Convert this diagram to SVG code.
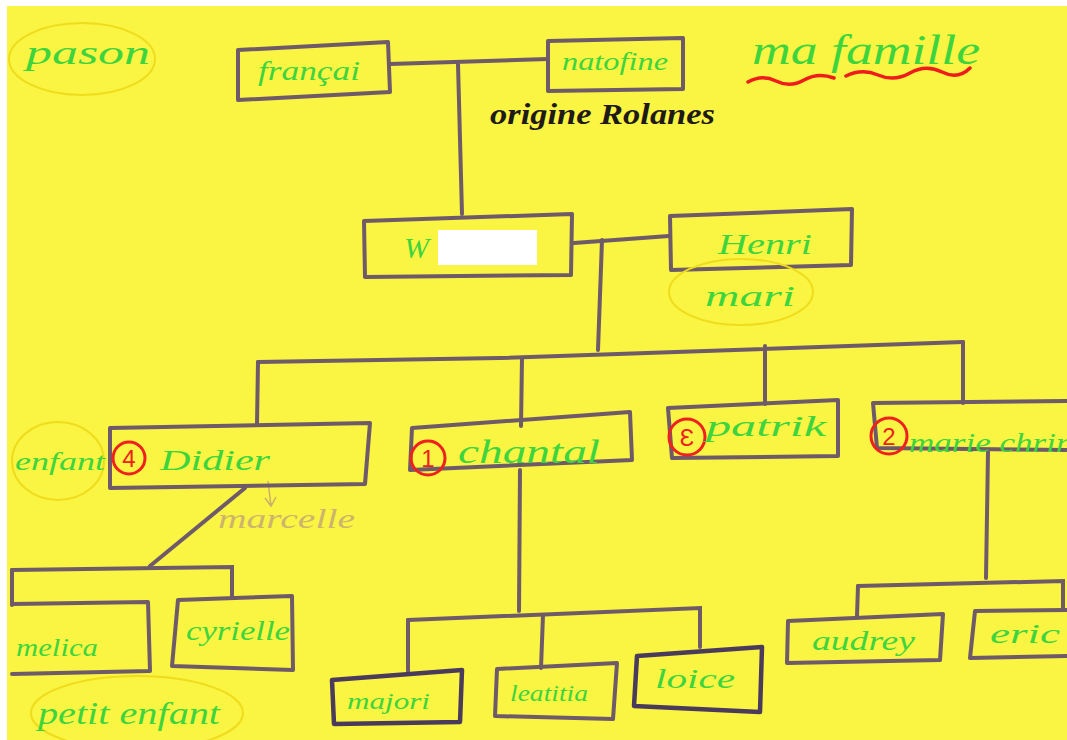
<svg xmlns="http://www.w3.org/2000/svg" width="1067" height="740" viewBox="0 0 1067 740">
<defs>
<style>
.box{fill:none;stroke:#6e5a68;stroke-width:4;stroke-linejoin:round;stroke-linecap:round}
.dark{stroke:#4a3a5c;stroke-width:4.5}
.ln{fill:none;stroke:#6e5a68;stroke-width:4;stroke-linecap:round}
.t{font-family:"Liberation Serif",serif;font-style:italic;fill:#3ed43e}
.ov{fill:none;stroke:#efdc1c;stroke-width:2}
.num{fill:none;stroke:#ee2020;stroke-width:3}
.nt{font-family:"Liberation Sans",sans-serif;fill:#ee2020;font-size:24px;text-anchor:middle}
</style>
</defs>
<rect x="0" y="0" width="1067" height="740" fill="#ffffff"/>
<rect x="7" y="6" width="1060" height="734" fill="#faf442"/>

<g id="connectors">
<path class="ln" d="M390 64 L548 59"/>
<path class="ln" d="M458 64 L462 214"/>
<path class="ln" d="M574 243 L669 236"/>
<path class="ln" d="M602 240 L598 350"/>
<path class="ln" d="M258 362 L500 358 L963 342"/>
<path class="ln" d="M258 362 L257 424"/>
<path class="ln" d="M522 358 L521 426"/>
<path class="ln" d="M765 346 L765 404"/>
<path class="ln" d="M963 342 L963 403"/>
<path class="ln" d="M245 488 L150 566"/>
<path class="ln" d="M12 570 L232 567 L232 598"/>
<path class="ln" d="M12 570 L12 605"/>
<path class="ln" d="M520 470 L519 611"/>
<path class="ln dark" d="M408 620 L700 608 L700 647"/>
<path class="ln dark" d="M408 620 L408 671"/>
<path class="ln" d="M543 615 L541 668"/>
<path class="ln" d="M988 452 L986 578"/>
<path class="ln" d="M858 586 L1063 581 L1063 610"/>
<path class="ln" d="M858 586 L857 616"/>
<path d="M268 481 L271 506 M265 498 L271 506 L276 497" fill="none" stroke="#c9b06a" stroke-width="1.5"/>
</g>

<g id="pason">
<ellipse class="ov" cx="82" cy="59" rx="73" ry="36"/>
<text class="t" x="26" y="64" style="font-size:34px" textLength="124" lengthAdjust="spacingAndGlyphs">pason</text>
</g>

<g id="francai">
<path class="box" d="M238 50 L388 42 L390 92 L238 100 Z"/>
<text class="t" x="258" y="80" style="font-size:28px" textLength="102" lengthAdjust="spacingAndGlyphs">françai</text>
</g>

<g id="natofine">
<path class="box" d="M548 41 L683 38 L683 89 L548 91 Z"/>
<text class="t" x="562" y="70" style="font-size:26px" textLength="106" lengthAdjust="spacingAndGlyphs">natofine</text>
</g>

<g id="origine">
<text x="490" y="124" font-family="Liberation Serif,serif" font-style="italic" font-weight="bold" font-size="30" fill="#1e1a18" textLength="225" lengthAdjust="spacingAndGlyphs">origine Rolanes</text>
</g>

<g id="mafamille">
<text class="t" x="752" y="64" style="font-size:42px" textLength="228" lengthAdjust="spacingAndGlyphs">ma famille</text>
<path d="M748 82 Q762 74 776 81 T804 80 T834 78 M846 76 Q862 68 878 75 T910 73 T942 72 T970 68" fill="none" stroke="#ee1c1c" stroke-width="3.5" stroke-linecap="round"/>
</g>

<g id="w">
<path class="box" d="M364 221 L572 214 L571 275 L365 277 Z"/>
<text class="t" x="404" y="258" style="font-size:30px">W</text>
<rect x="438" y="230" width="99" height="35" fill="#ffffff"/>
</g>

<g id="henri">
<path class="box" d="M670 216 L852 209 L851 265 L671 270 Z"/>
<text class="t" x="718" y="254" style="font-size:30px" textLength="94" lengthAdjust="spacingAndGlyphs">Henri</text>
</g>

<g id="mari">
<ellipse class="ov" cx="741" cy="292" rx="72" ry="33"/>
<text class="t" x="705" y="306" style="font-size:30px" textLength="90" lengthAdjust="spacingAndGlyphs">mari</text>
</g>

<g id="enfant">
<ellipse class="ov" cx="58" cy="461" rx="46" ry="39"/>
<text class="t" x="15" y="470" style="font-size:26px" textLength="90" lengthAdjust="spacingAndGlyphs">enfant</text>
</g>

<g id="didier">
<path class="box" d="M110 428 L370 423 L365 484 L110 488 Z"/>
<circle class="num" cx="129" cy="458" r="16"/>
<text class="nt" x="129" y="467">4</text>
<text class="t" x="160" y="470" style="font-size:30px" textLength="110" lengthAdjust="spacingAndGlyphs">Didier</text>
</g>

<g id="marcelle">
<text x="218" y="528" font-family="Liberation Serif,serif" font-style="italic" font-size="28" fill="#cdb46e" textLength="137" lengthAdjust="spacingAndGlyphs">marcelle</text>
</g>

<g id="chantal">
<path class="box" d="M412 428 L630 412 L632 460 L410 470 Z"/>
<circle class="num" cx="428" cy="458" r="17"/>
<text class="nt" x="428" y="467">1</text>
<text class="t" x="458" y="463" style="font-size:34px" textLength="142" lengthAdjust="spacingAndGlyphs">chantal</text>
</g>

<g id="patrik">
<path class="box" d="M668 408 L838 400 L838 456 L672 458 Z"/>
<circle class="num" cx="687" cy="437" r="18"/>
<text class="nt" x="687" y="446">Ɛ</text>
<text class="t" x="706" y="436" style="font-size:30px" textLength="120" lengthAdjust="spacingAndGlyphs">patrik</text>
</g>

<g id="marie">
<path class="box" d="M1067 401 L873 403 L877 448 L1067 450"/>
<circle class="num" cx="889" cy="436" r="18"/>
<text class="nt" x="889" y="445">2</text>
<text class="t" x="909" y="452" style="font-size:28px" textLength="180" lengthAdjust="spacingAndGlyphs">marie chrine</text>
</g>

<g id="melica">
<path class="box" d="M12 604 L148 602 L150 671 L12 674"/>
<text class="t" x="16" y="656" style="font-size:26px" textLength="82" lengthAdjust="spacingAndGlyphs">melica</text>
</g>

<g id="cyrielle">
<path class="box" d="M178 600 L292 596 L293 670 L172 666 Z"/>
<text class="t" x="186" y="640" style="font-size:28px" textLength="104" lengthAdjust="spacingAndGlyphs">cyrielle</text>
</g>

<g id="petitenfant">
<ellipse class="ov" cx="137" cy="713" rx="106" ry="37"/>
<text class="t" x="38" y="724" style="font-size:32px" textLength="182" lengthAdjust="spacingAndGlyphs">petit enfant</text>
</g>

<g id="majori">
<path class="box dark" d="M332 680 L462 670 L460 722 L334 724 Z"/>
<text class="t" x="347" y="709" style="font-size:24px" textLength="83" lengthAdjust="spacingAndGlyphs">majori</text>
</g>

<g id="leatitia">
<path class="box" d="M497 669 L617 663 L613 719 L495 716 Z"/>
<text class="t" x="510" y="701" style="font-size:24px" textLength="78" lengthAdjust="spacingAndGlyphs">leatitia</text>
</g>

<g id="loice">
<path class="box dark" d="M637 656 L762 647 L760 712 L634 706 Z"/>
<text class="t" x="655" y="688" style="font-size:28px" textLength="80" lengthAdjust="spacingAndGlyphs">loice</text>
</g>

<g id="audrey">
<path class="box" d="M788 621 L943 614 L940 660 L787 663 Z"/>
<text class="t" x="812" y="650" style="font-size:28px" textLength="103" lengthAdjust="spacingAndGlyphs">audrey</text>
</g>

<g id="eric">
<path class="box" d="M1067 610 L975 611 L970 658 L1067 656"/>
<text class="t" x="990" y="643" style="font-size:28px" textLength="70" lengthAdjust="spacingAndGlyphs">eric</text>
</g>
</svg>
